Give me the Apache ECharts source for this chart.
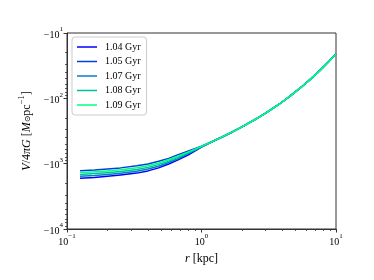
<!DOCTYPE html>
<html>
<head>
<meta charset="utf-8">
<script src="https://cdn.jsdelivr.net/npm/echarts@6/dist/echarts.min.js"></script>
<style>html,body{margin:0;padding:0;background:#fff}#c{width:374px;height:280px}</style>
</head>
<body>
<div id="c"></div>
<script>
// radius values (kpc)
const rValues = [0.125, 0.16, 0.2, 0.25, 0.33, 0.4, 0.48, 0.57, 0.67, 0.8, 1.0, 1.2, 1.4, 1.7, 2.0, 2.5, 3.0, 3.8, 4.5, 5.4, 6.5, 7.6, 8.7, 10];
// V/4piG values (negative), per snapshot
const v104 = [-1675, -1625, -1563, -1490, -1395, -1290, -1160, -1010, -875, -730, -556, -462, -397, -327, -274, -211, -168, -122, -94, -70, -50.4, -37.3, -28.3, -20.9];
const v105 = [-1280, -1250, -1205, -1160, -1080, -1010, -920, -830, -730, -640, -540, -457, -395, -325, -273, -211, -168, -122, -94, -70, -50.4, -37.3, -28.3, -20.9];
const v107 = [-1560, -1520, -1465, -1400, -1310, -1210, -1095, -960, -840, -700, -552, -461, -397, -326, -274, -211, -168, -122, -94, -70, -50.4, -37.3, -28.3, -20.9];
const v108 = [-1460, -1420, -1375, -1320, -1230, -1140, -1035, -915, -800, -680, -548, -460, -396, -326, -274, -211, -168, -122, -94, -70, -50.4, -37.3, -28.3, -20.9];
const v109 = [-1370, -1335, -1290, -1240, -1155, -1075, -975, -870, -765, -660, -544, -459, -396, -326, -274, -211, -168, -122, -94, -70, -50.4, -37.3, -28.3, -20.9];
const seriesNames = ['1.04 Gyr', '1.05 Gyr', '1.07 Gyr', '1.08 Gyr', '1.09 Gyr'];
const seriesValues = [v104, v105, v107, v108, v109];
const colors = ['#0000ff', '#0040df', '#0080bf', '#00bf9f', '#00ff80'];
// tick labels
const xTickExps = {0.1: '−1', 1: '0', 10: '1'};
const yTickExps = {10: '1', 100: '2', 1000: '3', 10000: '4'};
const xMinor = [0.2,0.3,0.4,0.5,0.6,0.7,0.8,0.9,2,3,4,5,6,7,8,9];
const yMinor = [20,30,40,50,60,70,80,90,200,300,400,500,600,700,800,900,2000,3000,4000,5000,6000,7000,8000,9000];

const FONT = '"Liberation Serif", "DejaVu Serif", serif';
const supRich = {
  b: {fontFamily: FONT, fontSize: 10, color: '#000', lineHeight: 14, verticalAlign: 'bottom'},
  e: {fontFamily: FONT, fontSize: 7, color: '#000', lineHeight: 14, verticalAlign: 'top'}
};
function near(v, map) {
  for (const k in map) { if (Math.abs(Math.log10(v) - Math.log10(+k)) < 1e-6) return map[k]; }
  return null;
}

const chart = echarts.init(document.getElementById('c'), null, {renderer: 'canvas'});
const series = seriesValues.map((vals, i) => ({
  name: seriesNames[i],
  type: 'line',
  xAxisIndex: 0, yAxisIndex: 0,
  data: rValues.map((r, j) => [r, -vals[j]]),
  symbol: 'none',
  smooth: false,
  lineStyle: {width: 1.5, color: colors[i], join: 'round'},
  itemStyle: {color: colors[i]},
  animation: false,
  z: 2 + i
}));

const titleRich = {
  n: {fontFamily: FONT, fontSize: 12, color: '#000', lineHeight: 16, verticalAlign: 'bottom'},
  i: {fontFamily: FONT, fontStyle: 'italic', fontSize: 12, color: '#000', lineHeight: 16, verticalAlign: 'bottom'},
  s: {fontFamily: FONT, fontSize: 8, color: '#000', lineHeight: 16, verticalAlign: 'bottom', padding: [0,0,1,0]},
  e: {fontFamily: FONT, fontSize: 8.5, color: '#000', lineHeight: 16, verticalAlign: 'top'}
};

chart.setOption({
  backgroundColor: '#fff',
  animation: false,
  grid: {left: 67, right: 38, top: 33, bottom: 51, show: true, borderColor: '#333', borderWidth: 1, backgroundColor: 'transparent'},
  legend: {
    left: 72, top: 37, orient: 'vertical',
    data: seriesNames,
    itemWidth: 20, itemHeight: 10, itemGap: 4.5,
    padding: [5, 6, 5, 5],
    borderColor: '#ccc', borderWidth: 1, borderRadius: 3,
    backgroundColor: 'rgba(255,255,255,0.8)',
    textStyle: {fontFamily: FONT, fontSize: 10, color: '#000', padding: [0,0,0,3]},
    icon: 'path://M0,0L20,0L20,1.5L0,1.5Z'
  },
  xAxis: [{
    type: 'log', logBase: 10, min: 0.1, max: 10, gridIndex: 0, position: 'bottom',
    name: '{i|r}{n| [kpc]}', nameLocation: 'middle', nameGap: 20,
    nameTextStyle: {fontFamily: FONT, fontSize: 12, color: '#000', rich: titleRich},
    axisLine: {show: true, lineStyle: {color: '#333', width: 1}},
    axisTick: {show: true, inside: false, length: 3.5, lineStyle: {color: '#333'}},
    axisLabel: {margin: 4, formatter: v => { const e = near(v, xTickExps); return e === null ? '' : '{b|10}{e|' + e + '}'; }, rich: supRich},
    splitLine: {show: false}
  }, {
    type: 'log', logBase: 10, min: 0.1, max: 10, gridIndex: 0, position: 'bottom',
    axisLine: {show: false},
    axisTick: {show: true, length: 2, customValues: xMinor, lineStyle: {color: '#333', width: 0.8}},
    axisLabel: {show: false},
    splitLine: {show: false}
  }],
  yAxis: [{
    type: 'log', logBase: 10, min: 10, max: 10000, inverse: true, gridIndex: 0, position: 'left',
    name: '{i|V}{n|/4}{i|πG}{n| [}{i|M}{s|⊙}{n|pc}{e|−1}{n|]}', nameLocation: 'middle', nameGap: 33, nameRotate: 90,
    nameTextStyle: {fontFamily: FONT, fontSize: 12, color: '#000', rich: titleRich},
    axisLine: {show: true, lineStyle: {color: '#333', width: 1}},
    axisTick: {show: true, inside: false, length: 3.5, lineStyle: {color: '#333'}},
    axisLabel: {margin: 4, formatter: v => { const e = near(v, yTickExps); return e === null ? '' : '{b|−10}{e|' + e + '}'; }, rich: supRich},
    splitLine: {show: false}
  }, {
    type: 'log', logBase: 10, min: 10, max: 10000, inverse: true, gridIndex: 0, position: 'left',
    axisLine: {show: false},
    axisTick: {show: true, length: 2, customValues: yMinor, lineStyle: {color: '#333', width: 0.8}},
    axisLabel: {show: false},
    splitLine: {show: false}
  }],
  series: series
});
</script>
</body>
</html>
